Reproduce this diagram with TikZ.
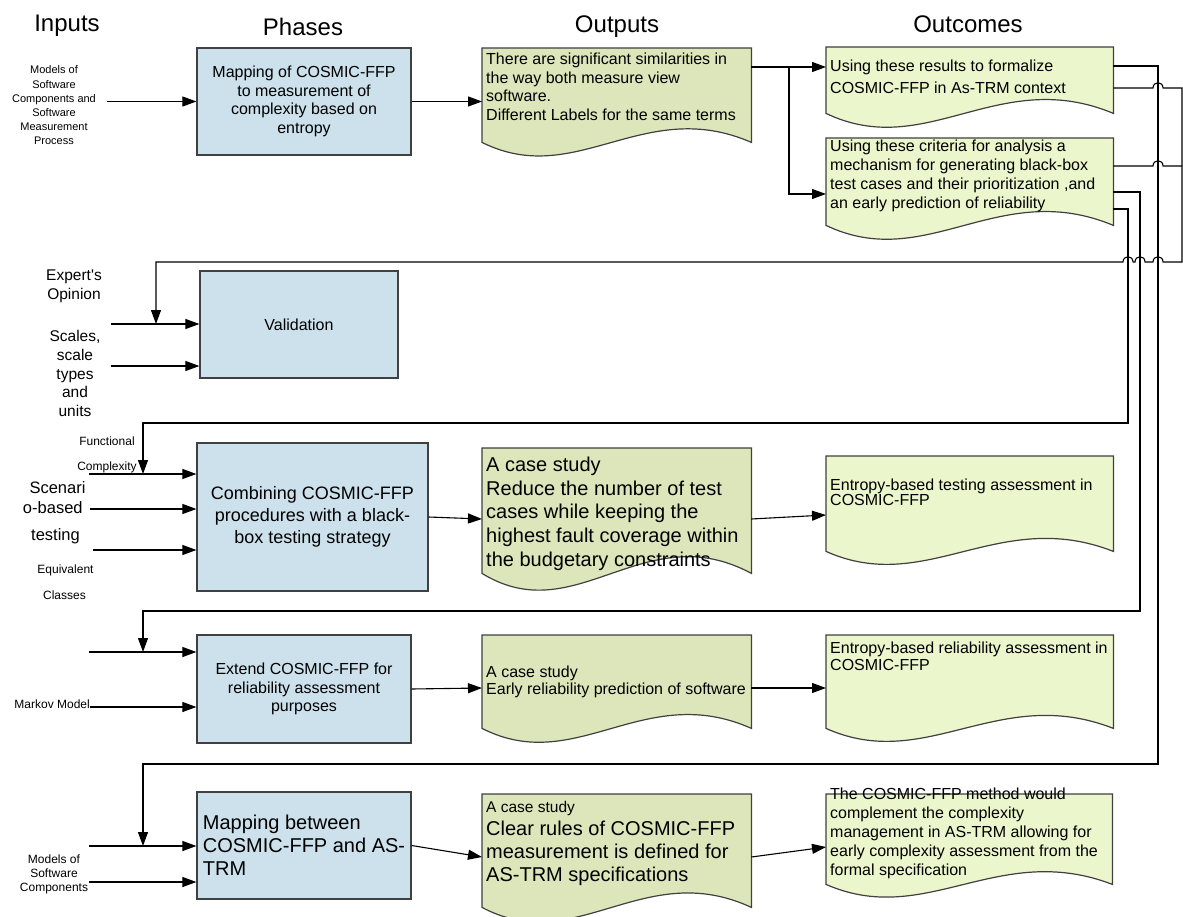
\documentclass[tikz,border=0pt]{standalone}
\usepackage{fontspec}
\setmainfont{Liberation Sans}
\usetikzlibrary{arrows.meta,calc}
\definecolor{phasefill}{HTML}{CCE1EC}
\definecolor{outfill}{HTML}{DCE6BA}
\definecolor{ocfill}{HTML}{EBF6CC}
\definecolor{edgegray}{HTML}{404040}
\newcommand\fs[2]{\fontsize{#1}{#2}\selectfont}

\begin{document}
\begin{tikzpicture}[x=1pt,y=-1pt,
  phase/.style={draw=edgegray, line width=1.2pt, fill=phasefill, inner sep=0pt, align=center},
  docframe/.style={rectangle, inner sep=0pt, anchor=north west},
  docline/.style={draw=edgegray, line width=1.2pt},
  doctext/.style={anchor=base west, inner sep=0pt, align=left},
  intext/.style={inner sep=0pt, align=center, anchor=base},
  coltitle/.style={anchor=base, inner sep=0pt, font=\fs{24}{28}},
  conn/.style={line width=1.1pt, black},
  arr/.style={conn, -{Triangle[length=14pt,width=10pt]}},
]
\useasboundingbox (0,0) rectangle (1183,917);

% column titles
\node[coltitle] (tin)  at (67,32)  {Inputs};
\node[coltitle] (tph)  at (303,36) {Phases};
\node[coltitle] (tout) at (617,33) {Outputs};
\node[coltitle] (toc)  at (968,33) {Outcomes};

% phases
\node[phase, minimum width=214pt, minimum height=107pt, font=\fs{16}{18.7}] (p1) at (304,101.5)
  {Mapping of COSMIC-FFP\\to measurement of\\complexity based on\\entropy};
\node[phase, minimum width=198pt, minimum height=107pt, font=\fs{16}{19}] (val) at (299,324.5)
  {Validation};
\node[phase, minimum width=231pt, minimum height=148pt, font=\fs{18}{22}] (p3) at (312.5,517)
  {Combining COSMIC-FFP\\procedures with a black-\\box testing strategy};
\node[phase, minimum width=214pt, minimum height=108pt, font=\fs{16}{18.5}] (p4) at (304,689)
  {Extend COSMIC-FFP for\\reliability assessment\\purposes};
\node[phase, minimum width=214pt, minimum height=107pt, font=\fs{20}{23}, align=left] (p5) at (304,845.5)
  {Mapping between\\COSMIC-FFP and AS-\\TRM};

% document frames (outputs and outcomes)
\node[docframe, minimum width=269pt, minimum height=94pt]  (o1) at (482,48)  {};
\node[docframe, minimum width=287pt, minimum height=66pt]  (u1) at (826,47)  {};
\node[docframe, minimum width=287pt, minimum height=87pt]  (u2) at (826,138) {};
\node[docframe, minimum width=269pt, minimum height=125pt] (o3) at (482,448) {};
\node[docframe, minimum width=287pt, minimum height=95pt]  (u3) at (826,456) {};
\node[docframe, minimum width=269pt, minimum height=93pt]  (o4) at (482,635) {};
\node[docframe, minimum width=287pt, minimum height=93pt]  (u4) at (826,635) {};
\node[docframe, minimum width=269pt, minimum height=113pt] (o5) at (482,794) {};
\node[docframe, minimum width=286pt, minimum height=90pt]  (u5) at (826,794) {};

\foreach \n/\c/\a in {o1/outfill/47, u1/ocfill/48, u2/ocfill/48, o3/outfill/58, u3/ocfill/45,
                      o4/outfill/48, u4/ocfill/45, o5/outfill/50, u5/ocfill/44}
  \draw[docline, fill=\c] (\n.north west) -- (\n.north east) -- (\n.south east)
    .. controls ($(\n.south east)!0.4!(\n.south west)+(0,-\a)$)
            and ($(\n.south east)!0.65!(\n.south west)+(0,\a)$) .. (\n.south west) -- cycle;

% document texts (anchored at the baseline of the last line)
\node[doctext, font=\fs{16}{18.4}] (o1t) at (486,120.2)
  {There are significant similarities in\\the way both measure view\\software.\\Different Labels for the same terms};
\node[doctext, font=\fs{16}{21.7}] (u1t) at (830,93.7)
  {Using these results to formalize\\COSMIC-FFP in As-TRM context};
\node[doctext, font=\fs{16}{19}] (u2t) at (830,209)
  {Using these criteria for analysis a\\mechanism for generating black-box\\test cases and their prioritization ,and\\an early prediction of reliability};
\node[doctext, font=\fs{20}{23.6}] (o3t) at (486,566.1)
  {A case study\\Reduce the number of test\\cases while keeping the\\highest fault coverage within\\the budgetary constraints};
\node[doctext, font=\fs{16}{13.5}] (u3t) at (830,505.5)
  {Entropy-based testing assessment in\\COSMIC-FFP};
\node[doctext, font=\fs{16}{17}] (o4t) at (486,694)
  {A case study\\Early reliability prediction of software};
\node[doctext, font=\fs{16}{17.5}] (u4t) at (830,670.5)
  {Entropy-based reliability assessment in\\COSMIC-FFP};
\node[doctext, font=\fs{15.5}{18}] (o5a) at (486,812) {A case study};
\node[doctext, font=\fs{20}{23.3}] (o5b) at (486,881.6)
  {Clear rules of COSMIC-FFP\\measurement is defined for\\AS-TRM specifications};
\node[doctext, font=\fs{16}{19}] (u5t) at (830,875)
  {The COSMIC-FFP method would\\complement the complexity\\management in AS-TRM allowing for\\early complexity assessment from the\\formal specification};

% inputs
\node[intext, font=\fs{11}{14.2}] (in1) at (54,145)
  {Models of\\Software\\Components and\\Software\\Measurement\\Process};
\node[intext, font=\fs{15.5}{19}] (in2a) at (74,299) {Expert\textquotesingle s\\Opinion};
\node[intext, font=\fs{15.5}{18.75}] (in2b) at (75,416.7) {Scales,\\scale\\types\\and\\units};
\node[intext, font=\fs{12}{14}] (in3a) at (107,445.7) {Functional};
\node[intext, font=\fs{12}{14}] (in3b) at (107,470.7) {Complexity};
\node[intext, font=\fs{16.5}{20}] (in3c) at (57.5,493.3) {Scenari};
\node[intext, font=\fs{16.5}{20}] (in3d) at (52.8,513.3) {o-based};
\node[intext, font=\fs{16.5}{20}] (in3e) at (55.5,540) {testing};
\node[intext, font=\fs{12}{14}] (in3f) at (65.5,573.3) {Equivalent};
\node[intext, font=\fs{12}{14}] (in3g) at (64.5,599) {Classes};
\node[anchor=base east, inner sep=0pt, font=\fs{12}{14}] (in4) at (90,708) {Markov Model};
\node[intext, font=\fs{12}{14.3}] (in5) at (54,891.6) {Models of\\Software\\Components};

% input arrows
\coordinate (s1)  at (107,101.5);
\coordinate (s2a) at (111,324);
\coordinate (s2b) at (111,366);
\coordinate (s3a) at (89,474);
\coordinate (s3b) at (90,509);
\coordinate (s3c) at (93,550);
\coordinate (s4a) at (89,652);
\coordinate (s4b) at (90,707);
\coordinate (s5a) at (89,846);
\coordinate (s5b) at (89,882);
\foreach \s/\t in {s1/p1, s2a/val, s2b/val, s3a/p3, s3b/p3, s3c/p3, s4a/p4, s4b/p4, s5a/p5, s5b/p5}
  \draw[arr] (\s) -- (\s -| \t.west);

% phase -> output -> outcome
\draw[arr] (p1.east) -- (p1.east -| o1.west);
\coordinate (b1) at (789,67);
\draw[arr] (o1.east |- b1) -- (b1 -| u1.west);
\draw[arr] (b1) |- ($(u2.north west)+(0,56)$);

\draw[arr] (p3.east) -- ($(o3.north west)+(0,71)$);
\draw[arr] ($(o3.north east)+(0,71)$) -- ($(u3.north west)+(0,59)$);
\draw[arr] (p4.east) -- ($(o4.north west)+(0,53)$);
\draw[arr] ($(o4.north east)+(0,53)$) -- ($(u4.north west)+(0,53)$);
\draw[arr] (p5.east) -- ($(o5.north west)+(0,63)$);
\draw[arr] ($(o5.north east)+(0,63)$) -- ($(u5.north west)+(0,53)$);

% feedback from the outcomes into the later phases
\coordinate (j2) at (156,324);
\coordinate (j3) at (143,474);
\coordinate (j4) at (143,652);
\coordinate (j5) at (143,846);

\draw[arr] ($(u1.north east)+(0,19)$) -- (1158,66) -- (1158,764) -- (143,764) -- (j5);
\draw[arr] ($(u1.north east)+(0,41)$) -- (1153,88)
    .. controls (1153,81) and (1163,81) .. (1163,88) -- (1182,88) -- (1182,262)
    -- (1163,262) .. controls (1163,255) and (1153,255) .. (1153,262)
    -- (1145,262) .. controls (1145,255) and (1135,255) .. (1135,262)
    -- (1133,262) .. controls (1133,255) and (1123,255) .. (1123,262)
    -- (156,262) -- (j2);
\draw[conn] ($(u2.north east)+(0,28)$) -- (1153,166)
    .. controls (1153,159) and (1163,159) .. (1163,166) -- (1182,166);
\draw[arr] ($(u2.north east)+(0,54)$) -- (1140,192) -- (1140,611) -- (143,611) -- (j4);
\draw[arr] ($(u2.north east)+(0,71)$) -- (1128,209) -- (1128,423) -- (143,423) -- (j3);

\end{tikzpicture}
\end{document}
